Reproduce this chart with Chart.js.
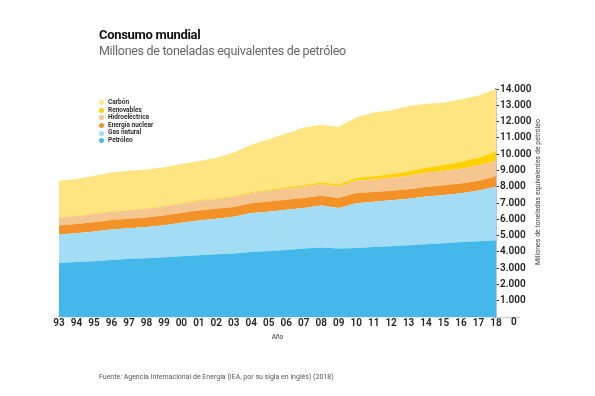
<!DOCTYPE html>
<html>
<head>
<meta charset="utf-8">
<script src="https://cdn.jsdelivr.net/npm/chart.js@4/dist/chart.umd.min.js"></script>
<style>
  html, body { margin: 0; padding: 0; background: #fff; }
  #wrap { position: relative; width: 595px; height: 396px; overflow: hidden; font-family: Roboto, "Open Sans", sans-serif; }
  canvas { position: absolute; left: 0; top: 0; }
  #title { position: absolute; left: 99px; top: 27px; font-size: 13px; font-weight: 700; color: #111; letter-spacing: -0.3px; }
  #subtitle { position: absolute; left: 99px; top: 43px; font-size: 12.5px; color: #666; letter-spacing: -0.3px; }
  #legend { position: absolute; left: 99px; top: 99px; font-size: 6.5px; color: #222; font-weight: 600; line-height: 7.6px; }
  #legend .it { display: flex; align-items: center; white-space: nowrap; }
  #legend .dot { width: 5px; height: 5px; border-radius: 50%; margin-right: 4px; display: inline-block; }
  #ytitle { position: absolute; left: 538px; top: 192px; font-size: 7px; color: #444; white-space: nowrap; transform: translate(-50%, -50%) rotate(-90deg); }
  #source { position: absolute; left: 99px; top: 373px; font-size: 7px; color: #555; white-space: nowrap; }
  #zero { position: absolute; left: 511px; top: 316px; font-size: 10px; font-weight: 600; color: #222; }
</style>
</head>
<body>
<div id="wrap">
  <canvas id="c" width="595" height="396"></canvas>
  <div id="title">Consumo mundial</div>
  <div id="subtitle">Millones de toneladas equivalentes de petróleo</div>
  <div id="legend"></div>
  <div id="ytitle">Millones de toneladas equivalentes de petróleo</div>
  <div id="source">Fuente: Agencia Internacional de Energía (IEA, por su sigla en inglés) (2018)</div>
  <div id="zero">0</div>
</div>
<script>
const years = ["93","94","95","96","97","98","99","00","01","02","03","04","05","06","07","08","09","10","11","12","13","14","15","16","17","18"];
const petroleo = [3320,3370,3430,3500,3570,3600,3670,3730,3790,3850,3900,3990,4060,4120,4200,4260,4200,4240,4300,4350,4400,4460,4530,4600,4650,4700];
const gasNatural = [1750,1780,1820,1880,1880,1920,1970,2050,2140,2180,2250,2390,2410,2460,2500,2590,2500,2750,2780,2820,2860,2940,2960,3000,3110,3300];
const nuclear = [550,560,570,580,580,590,600,610,610,610,600,610,620,620,610,600,600,630,600,580,580,590,600,600,610,630];
const hidro = [480,490,500,510,520,530,540,570,600,610,620,630,660,680,690,710,710,750,770,800,830,860,880,910,930,960];
const renovables = [30,30,30,30,30,30,35,40,40,45,50,60,70,80,95,110,120,160,190,220,260,320,360,420,480,570];
const carbon = [2240,2250,2330,2380,2400,2380,2380,2390,2400,2490,2680,2890,3100,3310,3540,3530,3550,3720,3910,3930,4030,3930,3830,3840,3820,3820];
const yTicks = [0,1000,2000,3000,4000,5000,6000,7000,8000,9000,10000,11000,12000,13000,14000];

const series = [
  { label: "Petróleo", data: petroleo, color: "#45B8EB" },
  { label: "Gas natural", data: gasNatural, color: "#A3DCF5" },
  { label: "Energía nuclear", data: nuclear, color: "#F39226" },
  { label: "Hidroeléctrica", data: hidro, color: "#F6C690" },
  { label: "Renovables", data: renovables, color: "#FFD100" },
  { label: "Carbón", data: carbon, color: "#FEE582" }
];

const leg = document.getElementById("legend");
series.slice().reverse().forEach(s => {
  const d = document.createElement("div");
  d.className = "it";
  d.innerHTML = '<span class="dot" style="background:' + s.color + '"></span>' + s.label;
  leg.appendChild(d);
});

function fmt(v) {
  return String(v).replace(/\B(?=(\d{3})+(?!\d))/g, ".");
}

const extendBase = {
  id: "extendBase",
  afterDraw(chart) {
    const { ctx, chartArea } = chart;
    ctx.save();
    ctx.strokeStyle = "#d0d0d0";
    ctx.lineWidth = 1.5;
    ctx.beginPath();
    ctx.moveTo(chartArea.right, chartArea.bottom + 0.5);
    ctx.lineTo(chartArea.right + 24, chartArea.bottom + 0.5);
    ctx.stroke();
    ctx.restore();
  }
};

new Chart(document.getElementById("c"), {
  type: "line",
  data: {
    labels: years,
    datasets: series.map((s, i) => ({
      label: s.label,
      data: s.data,
      backgroundColor: s.color,
      borderColor: s.color,
      borderWidth: 0,
      pointRadius: 0,
      tension: 0,
      fill: i === 0 ? "origin" : "-1"
    }))
  },
  plugins: [extendBase],
  options: {
    responsive: false,
    animation: false,
    layout: { padding: { left: 59, top: 89, right: 59, bottom: 55 } },
    plugins: { legend: { display: false }, tooltip: { enabled: false } },
    scales: {
      x: {
        offset: false,
        grid: { display: false, drawTicks: false },
        border: { display: true, color: "#d0d0d0", width: 1.5 },
        ticks: { color: "#222", font: { family: "Roboto", size: 10, weight: "600" }, padding: 0, maxRotation: 0, autoSkip: false },
        title: { display: true, text: "Año", color: "#333", font: { family: "Roboto", size: 6.5 }, padding: { top: 3, bottom: 0 } },
        afterFit: (sc) => { sc.height = 24; }
      },
      y: {
        position: "right",
        stacked: true,
        min: 0,
        max: 14000,
        afterBuildTicks: (sc) => { sc.ticks = yTicks.map(v => ({ value: v })); },
        grid: { display: true, drawOnChartArea: false, drawTicks: true, tickLength: 3, color: "#333", tickColor: "#333", tickWidth: 1 },
        border: { display: true, color: "#8a8a8a", width: 1.5 },
        ticks: { color: "#222", font: { family: "Roboto", size: 10, weight: "600" }, padding: 1, callback: (v) => v === 0 ? "" : fmt(v) },
        afterFit: (sc) => { sc.width = 40; }
      }
    }
  }
});
</script>
</body>
</html>
